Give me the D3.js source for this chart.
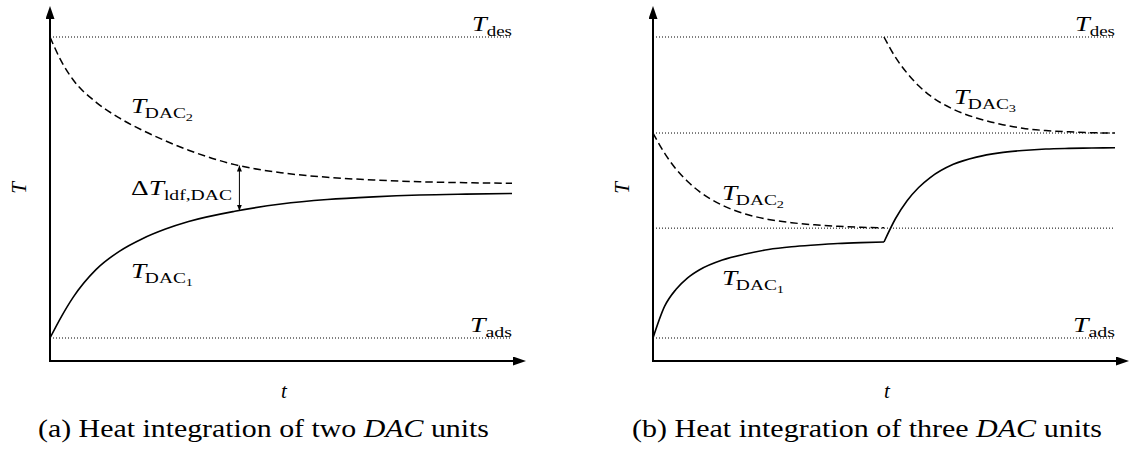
<!DOCTYPE html>
<html>
<head>
<meta charset="utf-8">
<script src="https://cdn.jsdelivr.net/npm/d3@7"></script>
<style>
  html, body { margin: 0; padding: 0; background: #fff; }
  svg { display: block; }
</style>
</head>
<body>
<svg id="chart" width="1129" height="450"></svg>
<script>
// Temperatures are normalised: 0 = T_ads, 1 = T_des. Time runs from 0 to 10 (arbitrary units).

// (a) two DAC units
const levelsA = [0, 1];                       // T_ads, T_des
const timeA   = [0, 0.25, 0.5, 1, 1.5, 2, 2.5, 3, 4, 5, 6, 7, 8, 9, 10];
const dac2A   = [1.000, 0.918, 0.858, 0.783, 0.731, 0.690, 0.655, 0.624, 0.576, 0.549, 0.534, 0.525, 0.519, 0.516, 0.514];
const dac1A   = [0.000, 0.072, 0.135, 0.228, 0.288, 0.330, 0.362, 0.387, 0.421, 0.445, 0.460, 0.469, 0.475, 0.478, 0.480];
const gapTimeA = 4.1;                         // where the driving force ΔT is marked
const gapA     = [0.573, 0.423];              // dashed / solid values at that time

// (b) three DAC units
const levelsB   = [0, 0.365, 0.681, 1];       // T_ads, intermediate levels, T_des
const timeB1    = [0, 0.25, 0.5, 0.75, 1, 1.5, 2, 2.5, 3, 3.5, 4, 4.5, 5];
const timeB2    = [5, 5.25, 5.5, 5.75, 6, 6.5, 7, 7.5, 8, 8.5, 9, 9.5, 10];
const dac2B     = [0.681, 0.614, 0.561, 0.520, 0.487, 0.441, 0.412, 0.394, 0.383, 0.376, 0.371, 0.368, 0.366];
const dac1B1    = [0.000, 0.105, 0.162, 0.200, 0.226, 0.259, 0.279, 0.294, 0.303, 0.309, 0.314, 0.317, 0.319];
const dac1B2    = [0.319, 0.397, 0.456, 0.500, 0.533, 0.577, 0.601, 0.615, 0.623, 0.628, 0.630, 0.631, 0.632];
const dac3B     = [1.000, 0.932, 0.880, 0.838, 0.805, 0.760, 0.731, 0.711, 0.697, 0.689, 0.685, 0.682, 0.681];

const captionA = ["(a) Heat integration of two ", "DAC", " units"];
const captionB = ["(b) Heat integration of three ", "DAC", " units"];

const FONT = '"Liberation Serif", "Times New Roman", serif';
const svg = d3.select("#chart");

// arrowhead definitions
const defs = svg.append("defs");
defs.append("marker")
  .attr("id", "axisHead").attr("viewBox", "0 0 13 9")
  .attr("refX", 0).attr("refY", 4.5)
  .attr("markerWidth", 13).attr("markerHeight", 9)
  .attr("markerUnits", "userSpaceOnUse").attr("orient", "auto")
  .append("path").attr("d", "M0,0 L13,4.5 L0,9 Z").attr("fill", "#000");
defs.append("marker")
  .attr("id", "gapHead").attr("viewBox", "0 0 6 5")
  .attr("refX", 6).attr("refY", 2.5)
  .attr("markerWidth", 6).attr("markerHeight", 5)
  .attr("markerUnits", "userSpaceOnUse").attr("orient", "auto-start-reverse")
  .append("path").attr("d", "M0,0 L6,2.5 L0,5 Z").attr("fill", "#000");

const MATH = 21, SUB = 15, SUBSUB = 11;

function addText(g) {
  return g.append("text").style("font-family", FONT).style("white-space", "pre").attr("fill", "#000");
}

// math label: italic symbol with roman subscript(s), stretched to a set width
function mathLabel(g, x, y, parts, width, anchor) {
  const t = addText(g).attr("x", x).attr("y", y)
    .attr("font-size", MATH).attr("text-anchor", anchor || "start");
  parts.forEach(p => {
    const s = t.append("tspan").text(p.text);
    if (p.italic) s.attr("font-style", "italic");
    if (p.level === 1) s.attr("font-size", SUB).attr("dy", 5).attr("dx", p.dx || 0);
    if (p.level === 2) s.attr("font-size", SUBSUB).attr("dy", 3);
  });
  if (width) t.attr("textLength", width).attr("lengthAdjust", "spacingAndGlyphs");
  return t;
}

function panel(cfg) {
  const g = svg.append("g");
  const x = d3.scaleLinear().domain([0, 10]).range([cfg.x0, cfg.x1]);
  const y = d3.scaleLinear().domain([0, 1]).range([338, 37]);
  const axisY = 361;

  const line = d3.line().x(d => x(d[0])).y(d => y(d[1])).curve(d3.curveMonotoneX);

  // dotted reference levels
  g.selectAll("line.level").data(cfg.levels).join("line")
    .attr("class", "level")
    .attr("x1", x(0)).attr("x2", x(10))
    .attr("y1", d => y(d)).attr("y2", d => y(d))
    .attr("stroke", "#000").attr("stroke-width", 1)
    .attr("stroke-dasharray", "1 2");

  // curves
  cfg.curves.forEach(c => {
    g.append("path")
      .datum(d3.zip(c.t, c.v))
      .attr("d", line)
      .attr("fill", "none")
      .attr("stroke", "#000")
      .attr("stroke-width", c.dashed ? 1.5 : 1.6)
      .attr("stroke-dasharray", c.dashed ? "7.5 4" : null);
  });

  // axes with arrowheads
  g.append("line")
    .attr("x1", cfg.x0).attr("y1", axisY + 1).attr("x2", cfg.x0).attr("y2", 19)
    .attr("stroke", "#000").attr("stroke-width", 2)
    .attr("marker-end", "url(#axisHead)");
  g.append("line")
    .attr("x1", cfg.x0 - 1).attr("y1", axisY).attr("x2", cfg.x1 + 1).attr("y2", axisY)
    .attr("stroke", "#000").attr("stroke-width", 2)
    .attr("marker-end", "url(#axisHead)");

  // axis titles
  addText(g).attr("x", (x(0) + x(10)) / 2 + 3).attr("y", 398)
    .attr("font-size", MATH).attr("font-style", "italic").attr("text-anchor", "middle").text("t");
  addText(g).attr("transform", `translate(${cfg.x0 - 24},188) rotate(-90)`)
    .attr("font-size", MATH).attr("font-style", "italic").attr("text-anchor", "middle").text("T");

  // level labels
  mathLabel(g, x(10), 31, [{ text: "T", italic: true }, { text: "des", level: 1 }], 40, "end");
  mathLabel(g, x(10), 332, [{ text: "T", italic: true }, { text: "ads", level: 1 }], 42, "end");

  // curve labels
  cfg.labels.forEach(l => {
    mathLabel(g, l.x, l.y, [{ text: "T", italic: true }, { text: "DAC", level: 1, dx: -1 }, { text: l.n, level: 2 }], 62);
  });

  // caption
  const cap = addText(g).attr("x", cfg.capCenter).attr("y", 437)
    .attr("font-size", 25).attr("text-anchor", "middle");
  cfg.caption.forEach((s, i) => {
    const ts = cap.append("tspan").text(s);
    if (i === 1) ts.attr("font-style", "italic");
  });
  cap.attr("textLength", cfg.capWidth).attr("lengthAdjust", "spacingAndGlyphs");

  return { g, x, y };
}

const a = panel({
  x0: 50, x1: 512, levels: levelsA,
  curves: [
    { t: timeA, v: dac2A, dashed: true },
    { t: timeA, v: dac1A, dashed: false }
  ],
  labels: [{ x: 131, y: 113, n: "2" }, { x: 131, y: 278, n: "1" }],
  caption: captionA, capCenter: 263.5, capWidth: 451
});

// driving-force marker between the two curves in (a)
a.g.append("line")
  .attr("x1", a.x(gapTimeA)).attr("x2", a.x(gapTimeA))
  .attr("y1", a.y(gapA[0])).attr("y2", a.y(gapA[1]))
  .attr("stroke", "#000").attr("stroke-width", 1)
  .attr("marker-start", "url(#gapHead)").attr("marker-end", "url(#gapHead)");
mathLabel(a.g, 131, 195, [{ text: "Δ" }, { text: "T", italic: true }, { text: "ldf,DAC", level: 1 }], 101);

panel({
  x0: 653, x1: 1115, levels: levelsB,
  curves: [
    { t: timeB1, v: dac2B, dashed: true },
    { t: timeB2, v: dac3B, dashed: true },
    { t: timeB1, v: dac1B1, dashed: false },
    { t: timeB2, v: dac1B2, dashed: false }
  ],
  labels: [{ x: 954, y: 104, n: "3" }, { x: 722, y: 200, n: "2" }, { x: 722, y: 285, n: "1" }],
  caption: captionB, capCenter: 867, capWidth: 470
});
</script>
</body>
</html>
